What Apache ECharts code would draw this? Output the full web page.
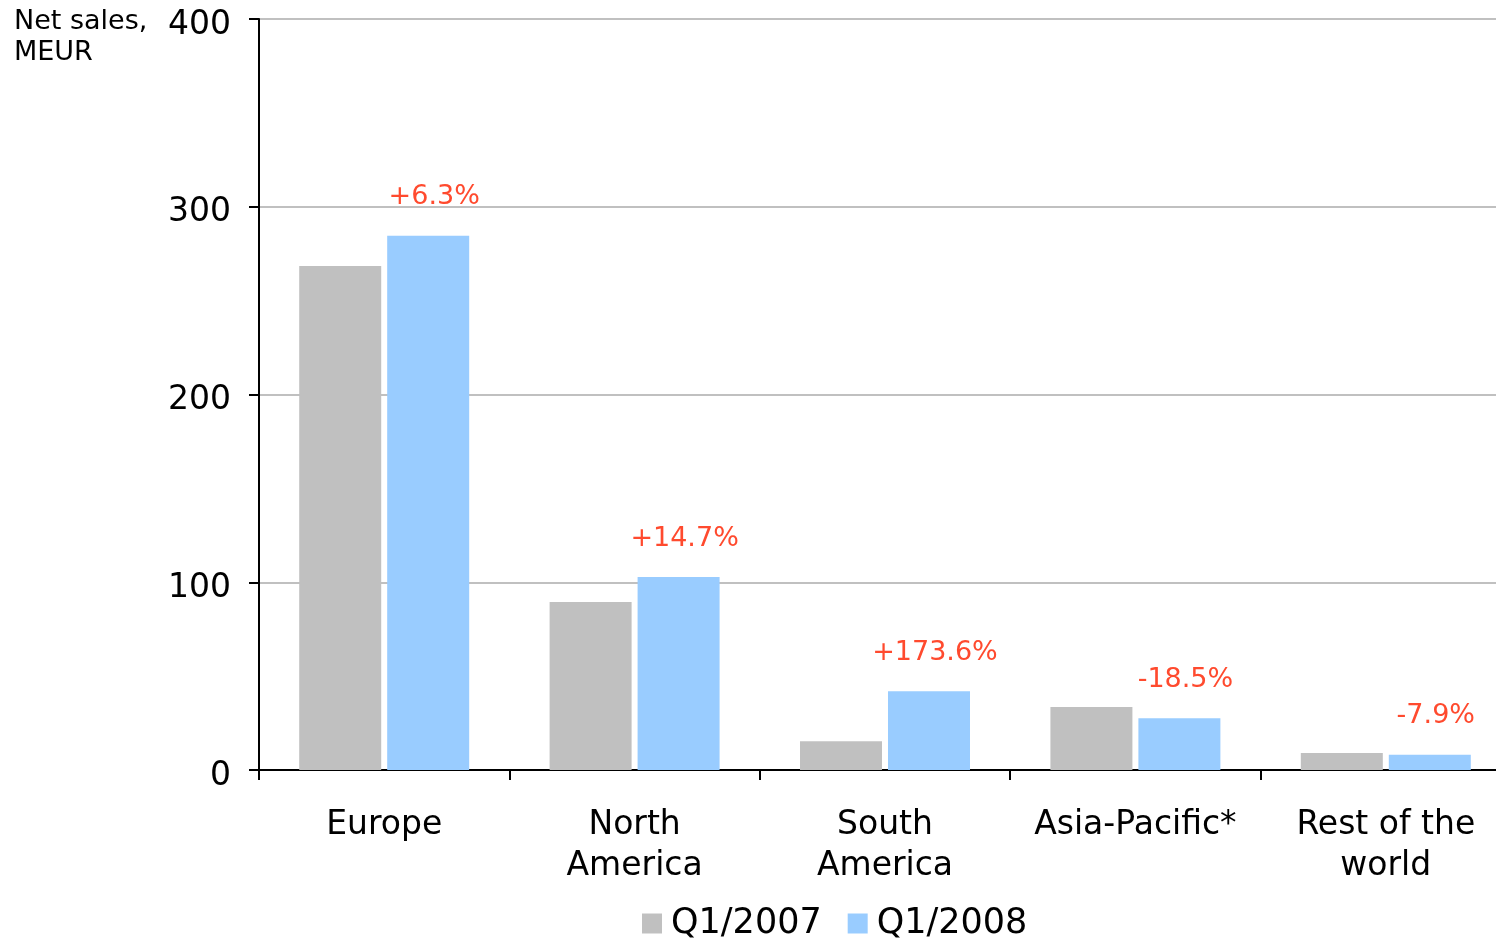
<!DOCTYPE html>
<html>
<head>
<meta charset="utf-8">
<script src="https://cdn.jsdelivr.net/npm/echarts@6/dist/echarts.min.js"></script>
<style>html,body{margin:0;padding:0;background:#fff}#c{width:1496px;height:938px}</style>
</head>
<body>
<div id="c"></div>
<script>
const categories = ['Europe', 'North\nAmerica', 'South\nAmerica', 'Asia-Pacific*', 'Rest of the\nworld'];
const seriesNames = ['Q1/2007', 'Q1/2008'];
const q12007 = [268.5, 89.5, 15.3, 33.6, 9.1];
const q12008 = [284.5, 102.8, 42.0, 27.5, 8.1];
const changeLabels = ['+6.3%', '+14.7%', '+173.6%', '-18.5%', '-7.9%'];
const yTicks = [0, 100, 200, 300, 400];

const FONT = '"DejaVu Sans", Verdana, sans-serif';
const chart = echarts.init(document.getElementById('c'), null, {renderer: 'canvas'});
chart.setOption({
  animation: false,
  backgroundColor: '#fff',
  textStyle: {fontFamily: FONT},
  graphic: [{
    type: 'text', left: 14, top: 6,
    style: {text: 'Net sales,\nMEUR', font: '27px ' + FONT, fill: '#000', lineHeight: 31}
  }],
  legend: {
    bottom: -8, left: 637, itemWidth: 20, itemHeight: 20, itemGap: 26,
    icon: 'rect',
    textStyle: {fontSize: 35, fontFamily: FONT, color: '#000', padding: [0, 0, 0, 4]},
    data: seriesNames
  },
  grid: {left: 259, top: 19, width: 1252, bottom: 168, containLabel: false, outerBoundsMode: 'none'},
  xAxis: {
    type: 'category', data: categories,
    axisLine: {lineStyle: {color: '#000', width: 2}},
    axisTick: {show: true, length: 10, lineStyle: {color: '#000', width: 2}},
    axisLabel: {fontSize: 33, fontFamily: FONT, color: '#000', margin: 35, lineHeight: 41, interval: 0}
  },
  yAxis: {
    type: 'value', min: yTicks[0], max: yTicks[yTicks.length - 1], interval: 100,
    axisLine: {show: true, lineStyle: {color: '#000', width: 2}},
    axisTick: {show: true, length: 10, lineStyle: {color: '#000', width: 2}},
    axisLabel: {color: '#000', margin: 28, formatter: '{a|{value}}',
      rich: {a: {fontSize: 33, fontFamily: FONT, color: '#000', padding: [12, 0, 0, 0]}}},
    splitLine: {lineStyle: {color: '#c0c0c0', width: 2}}
  },
  series: [
    {name: seriesNames[0], type: 'bar', data: q12007, barWidth: 82, barGap: '7.3%',
     itemStyle: {color: '#c0c0c0'}},
    {name: seriesNames[1], type: 'bar', data: q12008, barWidth: 82,
     itemStyle: {color: '#99ccff'},
     label: {show: true, position: 'top', offset: [6, -20], fontSize: 27, fontFamily: FONT,
       color: '#ff4a2e', formatter: p => changeLabels[p.dataIndex]}}
  ]
});
</script>
</body>
</html>
